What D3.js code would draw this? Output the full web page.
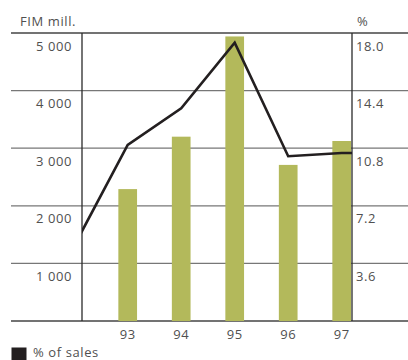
<!DOCTYPE html>
<html><head><meta charset="utf-8">
<script src="https://cdn.jsdelivr.net/npm/d3@7"></script>
<style>html,body{margin:0;padding:0;background:#fff;}svg{display:block;}</style>
</head><body>
<script>
const years = [93, 94, 95, 96, 97];
const sales = [2290, 3200, 4940, 2710, 3125];          // FIM mill.
const pctYears = [92, 93, 94, 95, 96, 97];
const pctSales = [4.7, 11.0, 13.3, 17.4, 10.3, 10.5];   // % of sales
const leftTicks = [1000, 2000, 3000, 4000, 5000];
const rightTicks = [3.6, 7.2, 10.8, 14.4, 18.0];

(function () {
const W = 408, H = 360;
const plotL = 82, plotR = 352, plotT = 33, base = 321;
const font = "'Open Sans', sans-serif";
const textCol = "#505050";
const fs = 13, ls = 0.6;

const svg = d3.select("body").append("svg").attr("width", W).attr("height", H);

const y = d3.scaleLinear().domain([0, 5000]).range([base, plotT]);
const y2 = d3.scaleLinear().domain([0, 18]).range([base, plotT]);
const x = d3.scaleLinear().domain([93, 97]).range([127.7, 341.7]);
const barW = 18.7;

function txt(sel) {
  return sel.attr("font-family", font).attr("font-size", fs).attr("fill", textCol)
    .attr("letter-spacing", ls);
}

// gridlines
svg.append("g").selectAll("line").data(leftTicks.slice(0, -1)).join("line")
  .attr("x1", 11).attr("x2", W).attr("y1", d => y(d)).attr("y2", d => y(d))
  .attr("stroke", "#777").attr("stroke-width", 1.3);
[0, 5000].forEach(v => svg.append("line").attr("x1", 11).attr("x2", W)
  .attr("y1", y(v)).attr("y2", y(v)).attr("stroke", "#444").attr("stroke-width", 1.5));

// bars
svg.append("g").selectAll("rect").data(years).join("rect")
  .attr("x", (d) => x(d) - barW / 2).attr("width", barW)
  .attr("y", (d, i) => y(sales[i])).attr("height", (d, i) => base - y(sales[i]))
  .attr("fill", "#b3b95b");

// vertical axes
[plotL, plotR].forEach(px => svg.append("line").attr("x1", px).attr("x2", px)
  .attr("y1", plotT).attr("y2", base).attr("stroke", "#2a2a2a").attr("stroke-width", 1.3));

// line (clipped to plot area, extended to right axis)
svg.append("clipPath").attr("id", "clip").append("rect")
  .attr("x", plotL).attr("y", 0).attr("width", plotR - plotL).attr("height", H);
const pts = pctYears.map((d, i) => [x(d), y2(pctSales[i])]);
pts.push([plotR, y2(pctSales[pctSales.length - 1])]);
svg.append("path").attr("clip-path", "url(#clip)")
  .attr("d", d3.line()(pts)).attr("fill", "none")
  .attr("stroke", "#231f20").attr("stroke-width", 2.6).attr("stroke-linejoin", "miter");

// left tick labels
txt(svg.append("g").selectAll("text").data(leftTicks).join("text")
  .attr("x", 72).attr("y", d => y(d) + 17.5).attr("text-anchor", "end"))
  .text(d => d3.format(",")(d).replace(",", " "));
// right tick labels
txt(svg.append("g").selectAll("text").data(rightTicks).join("text")
  .attr("x", 356).attr("y", d => y2(d) + 17.5))
  .text(d => d.toFixed(1));
// x labels
txt(svg.append("g").selectAll("text").data(years).join("text")
  .attr("x", d => x(d)).attr("y", 338.5).attr("text-anchor", "middle"))
  .text(d => d);

// titles
txt(svg.append("text").attr("x", 20).attr("y", 25.5)).text("FIM mill.");
txt(svg.append("text").attr("x", 357).attr("y", 25.5)).text("%");

// legend
svg.append("rect").attr("x", 11.5).attr("y", 347.5).attr("width", 15).attr("height", 15).attr("fill", "#231f20");
txt(svg.append("text").attr("x", 33).attr("y", 357)).text("% of sales");
})();
</script>
</body></html>
